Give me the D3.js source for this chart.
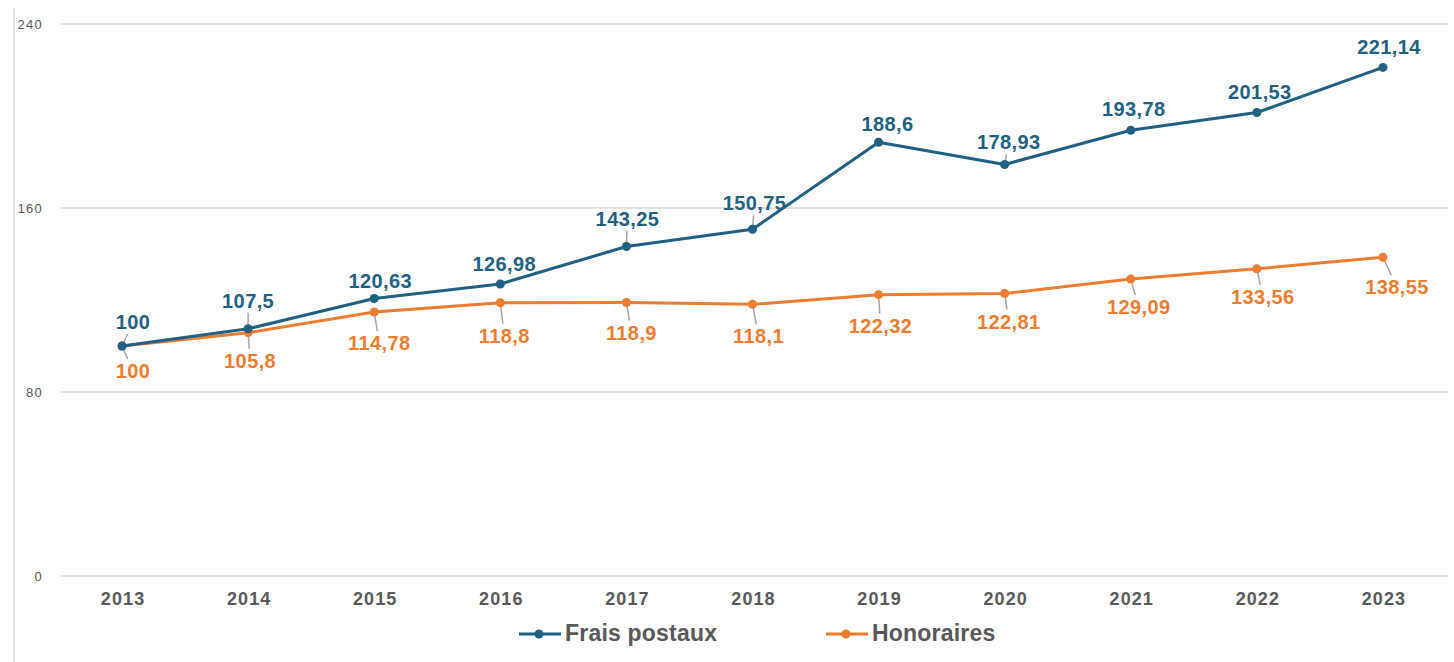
<!DOCTYPE html>
<html>
<head>
<meta charset="utf-8">
<script src="https://cdn.jsdelivr.net/npm/d3@7"></script>
<style>
  html, body { margin: 0; padding: 0; background: #fff; }
  svg { display: block; font-family: "Liberation Sans", Arial, sans-serif; }
</style>
</head>
<body>
<svg id="chart" width="1454" height="662"></svg>
<script>
// ---- Data ----
const years = ["2013","2014","2015","2016","2017","2018","2019","2020","2021","2022","2023"];
const fraisPostaux = [100, 107.5, 120.63, 126.98, 143.25, 150.75, 188.6, 178.93, 193.78, 201.53, 221.14];
const honoraires   = [100, 105.8, 114.78, 118.8, 118.9, 118.1, 122.32, 122.81, 129.09, 133.56, 138.55];
const yTicks = [0, 80, 160, 240];
const seriesNames = ["Frais postaux", "Honoraires"];

// ---- Label placement (style) ----
const fraisLabelOffsets = [[11,-24],[0,-28],[6,-18],[4,-20],[1,-28],[2,-26],[9,-18],[4,-22],[3,-21],[3,-20],[6,-20]];
const fraisLeader       = [true, true, false, false, true, true, false, true, false, false, false];
const honLabelOffsets   = [[11,25],[2,28],[5,31],[4,33],[5,30],[6,32],[2,31],[4,28],[8,28],[6,28],[14,30]];
const honLeader         = [true, true, true, true, true, true, true, true, true, true, true];

const colors = ["#1F6083", "#ED7D31"];
const textGrey = "#595959";
const gridGrey = "#D9D9D9";
const leaderGrey = "#A6A6A6";

const svg = d3.select("#chart");

const x = d3.scalePoint().domain(years).range([59, 1446]).padding(0.5);
const y = d3.scaleLinear().domain([0, 240]).range([576, 24]);

// left border line
svg.append("line")
  .attr("x1", 14).attr("x2", 14).attr("y1", 8).attr("y2", 662)
  .attr("stroke", gridGrey).attr("stroke-width", 1.5);

// gridlines
svg.append("g").selectAll("line").data(yTicks).join("line")
  .attr("x1", 61).attr("x2", 1449)
  .attr("y1", d => y(d)).attr("y2", d => y(d))
  .attr("stroke", gridGrey).attr("stroke-width", 1.5);

// y tick labels
svg.append("g").selectAll("text").data(yTicks).join("text")
  .attr("x", 43).attr("y", d => y(d) + 4.5)
  .attr("text-anchor", "end")
  .attr("font-size", 13).attr("letter-spacing", 1.3)
  .attr("fill", textGrey)
  .text(d => d);

// x labels
svg.append("g").selectAll("text").data(years).join("text")
  .attr("x", d => x(d) + 1).attr("y", 605)
  .attr("text-anchor", "middle")
  .attr("font-size", 18).attr("font-weight", "bold").attr("letter-spacing", 1.1)
  .attr("fill", textGrey)
  .text(d => d);

const series = [
  { name: seriesNames[0], values: fraisPostaux, color: colors[0], offsets: fraisLabelOffsets, leader: fraisLeader },
  { name: seriesNames[1], values: honoraires,   color: colors[1], offsets: honLabelOffsets,   leader: honLeader }
];

const fmt = v => String(v).replace(".", ",");

// leader lines
const hh = 12;
series.forEach(s => {
  const g = svg.append("g");
  s.values.forEach((v, i) => {
    if (!s.leader[i]) return;
    const px = x(years[i]), py = y(v);
    const [dx, dy] = s.offsets[i];
    const len = Math.hypot(dx, dy);
    const tEnd = (Math.abs(dy) - hh) / Math.abs(dy);
    const tStart = 3 / len;
    g.append("line")
      .attr("x1", px + dx * tStart).attr("y1", py + dy * tStart)
      .attr("x2", px + dx * tEnd).attr("y2", py + dy * tEnd)
      .attr("stroke", leaderGrey).attr("stroke-width", 1.5);
  });
});

// lines + markers
const line = d3.line().x((d, i) => x(years[i])).y(d => y(d));
series.slice().reverse().forEach(s => {
  svg.append("path")
    .datum(s.values)
    .attr("d", line)
    .attr("fill", "none")
    .attr("stroke", s.color)
    .attr("stroke-width", 3)
    .attr("stroke-linejoin", "round");
  svg.append("g").selectAll("circle").data(s.values).join("circle")
    .attr("cx", (d, i) => x(years[i])).attr("cy", d => y(d))
    .attr("r", 4.5).attr("fill", s.color);
});

// data labels
series.forEach(s => {
  svg.append("g").selectAll("text").data(s.values).join("text")
    .attr("x", (d, i) => x(years[i]) + s.offsets[i][0])
    .attr("y", (d, i) => y(d) + s.offsets[i][1] + 7)
    .attr("text-anchor", "middle")
    .attr("font-size", 20).attr("font-weight", "bold").attr("letter-spacing", 0.4)
    .attr("fill", s.color)
    .text(d => fmt(d));
});

// legend
const legendX = [519, 826];
const legend = svg.append("g");
series.forEach((s, i) => {
  const lx = legendX[i];
  legend.append("line")
    .attr("x1", lx).attr("x2", lx + 42).attr("y1", 634).attr("y2", 634)
    .attr("stroke", s.color).attr("stroke-width", 3);
  legend.append("circle")
    .attr("cx", lx + 20).attr("cy", 634).attr("r", 4.5).attr("fill", s.color);
  legend.append("text")
    .attr("x", lx + 46).attr("y", 641)
    .attr("font-size", 23).attr("font-weight", "bold").attr("letter-spacing", 0.2)
    .attr("fill", textGrey)
    .text(s.name);
});
</script>
</body>
</html>
